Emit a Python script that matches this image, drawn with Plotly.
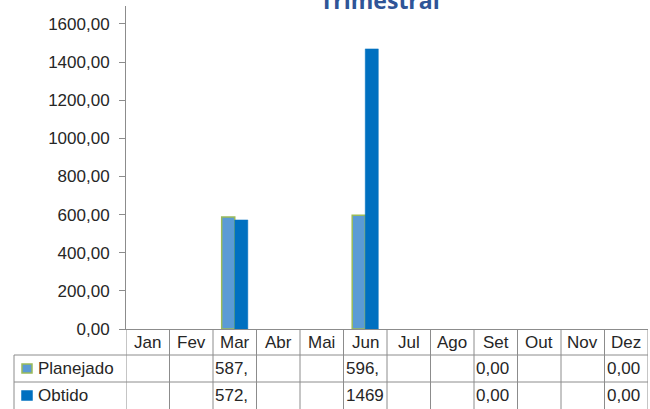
import plotly.graph_objects as go

# Data from the chart
meses = ["Jan", "Fev", "Mar", "Abr", "Mai", "Jun", "Jul", "Ago", "Set", "Out", "Nov", "Dez"]
planejado = [None, None, 587, None, None, 596, None, None, 0, None, None, 0]
obtido = [None, None, 572, None, None, 1469, None, None, 0, None, None, 0]
series_names = ["Planejado", "Obtido"]

cor_planejado = "#5B9BD5"
borda_planejado = "#9BBB59"
cor_obtido = "#0070C0"
cor_linha = "#8C8C8C"
fonte = "Liberation Sans, Arial, sans-serif"

fig = go.Figure()
fig.add_trace(go.Bar(x=meses, y=planejado, name="Planejado",
                     marker_color=cor_planejado,
                     marker_line=dict(color=borda_planejado,
                                      width=[1.5 if v else 0 for v in planejado])))
fig.add_trace(go.Bar(x=meses, y=obtido, name="Obtido",
                     marker_color=cor_obtido,
                     marker_line=dict(color=cor_obtido,
                                      width=[0.5 if v else 0 for v in obtido])))

fig.update_layout(
    width=650, height=409,
    margin=dict(l=126, r=2, t=6, b=80),
    plot_bgcolor="white", paper_bgcolor="white",
    showlegend=False,
    barmode="group", bargap=0.4, bargroupgap=0,
    separators=",.",
    font=dict(family=fonte, size=17, color="#262626"),
)
fig.update_yaxes(range=[0, 1694], tickvals=list(range(0, 1601, 200)),
                 tickformat=".2f", showgrid=False, zeroline=False,
                 showline=True, linecolor=cor_linha, linewidth=1,
                 ticks="outside", ticklen=6, tickcolor=cor_linha,
                 ticklabelstandoff=6, tickfont=dict(size=17))
fig.update_xaxes(range=[-0.5, 11.5], showticklabels=False, showgrid=False,
                 showline=True, linecolor=cor_linha, linewidth=1)

# Title (partly cut off at top, as in the picture)
fig.add_annotation(text="<b>Trimestral</b>", xref="paper", yref="paper",
                   x=0.487, y=0.962, xanchor="center", yanchor="bottom",
                   showarrow=False,
                   font=dict(family="Open Sans, Liberation Sans", size=23, color="#2F5597"))

# Data table below the plot
plot_h = 323.0
def py(pix):
    return (329 - pix) / plot_h

row_tops = [329, 355, 382, 409]
ys = [py(p) for p in row_tops]
left_x = (14 - 126) / 522.0

lines = []
for i in range(len(meses) + 1):
    lines.append(dict(type="line", xref="x", yref="paper", x0=i - 0.5, x1=i - 0.5,
                      y0=ys[0], y1=ys[3]))
for y in ys[1:3]:
    lines.append(dict(type="line", xref="paper", yref="paper", x0=left_x, x1=1,
                      y0=y, y1=y))
lines.append(dict(type="line", xref="paper", yref="paper", x0=left_x, x1=left_x,
                  y0=ys[1], y1=ys[3]))
for s in lines:
    s["line"] = dict(color=cor_linha, width=1)
    fig.add_shape(**s)

for i, m in enumerate(meses):
    fig.add_annotation(text=m, xref="x", yref="paper", x=i, y=(ys[0] + ys[1]) / 2,
                       showarrow=False, xanchor="center", yanchor="middle")

def fmt(v):
    return f"{v:.2f}".replace(".", ",")[:4]

for r, (nome, valores) in enumerate(zip(series_names, [planejado, obtido])):
    yc = (ys[r + 1] + ys[r + 2]) / 2
    for i, v in enumerate(valores):
        if v is None:
            continue
        fig.add_annotation(text=fmt(v), xref="x", yref="paper", x=i - 0.49, y=yc,
                           showarrow=False, xanchor="left", yanchor="middle")
    fig.add_annotation(text=nome, xref="paper", yref="paper", x=(36 - 126) / 522.0, y=yc,
                       showarrow=False, xanchor="left", yanchor="middle")
    cor = cor_planejado if r == 0 else cor_obtido
    borda = borda_planejado if r == 0 else cor_obtido
    fig.add_shape(type="rect", xref="paper", yref="paper",
                  x0=(22 - 126) / 522.0, x1=(32 - 126) / 522.0,
                  y0=yc - 4.5 / plot_h, y1=yc + 4.5 / plot_h,
                  fillcolor=cor, line=dict(color=borda, width=1.5))

# page body has a default margin; remove it so the figure fills the window
fig.write_html("out.html", config={"displayModeBar": False},
               post_script="document.body.style.margin='0';")
